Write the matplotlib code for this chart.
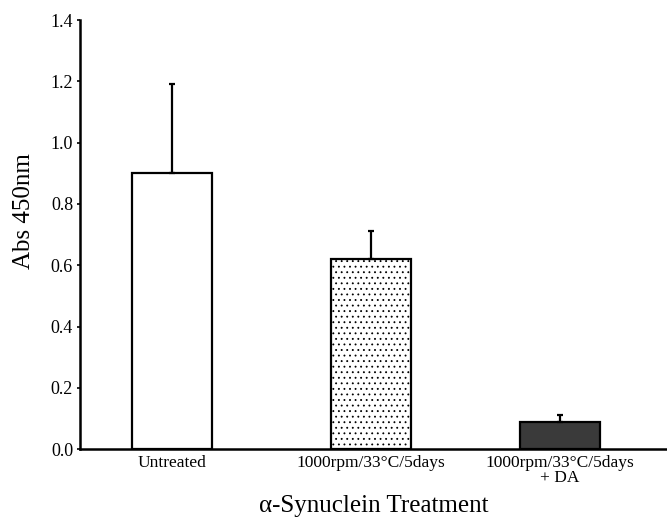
import matplotlib
matplotlib.use("Agg")
import matplotlib.pyplot as plt

categories = ["Untreated", "1000rpm/33°C/5days", "1000rpm/33°C/5days\n+ DA"]
values = [0.90, 0.62, 0.09]
errors = [0.29, 0.09, 0.02]
yticks = [0.0, 0.2, 0.4, 0.6, 0.8, 1.0, 1.2, 1.4]

plt.rcParams['font.family'] = ['Liberation Serif', 'DejaVu Serif']
plt.rcParams['hatch.linewidth'] = 0.6

fig = plt.figure(figsize=(6.67, 5.21), dpi=100)
ax = fig.add_axes([0.12, 0.138, 0.88, 0.8236])

pos = [0, 1.02, 1.99]
faces = ["white", "white", "#3a3a3a"]
hatches = [None, "...", None]
for p, v, e, fc, h in zip(pos, values, errors, faces, hatches):
    ax.bar(p, v, width=0.41, color=fc, edgecolor="black", linewidth=1.6, hatch=h, zorder=2)
    ax.errorbar(p, v, yerr=[[0], [e]], fmt="none", ecolor="black", elinewidth=1.6,
                capsize=2.5, capthick=1.6, zorder=3)

ax.set_xlim(-0.47, 2.54)
ax.set_ylim(0, 1.4)
ax.set_yticks(yticks)
ax.set_yticklabels([f"{t:.1f}" for t in yticks], fontsize=13)
ax.set_xticks(pos)
ax.set_xticklabels(categories, fontsize=12.5, linespacing=0.95)
ax.tick_params(axis="x", length=0, pad=4)
ax.tick_params(axis="y", length=2, width=1.2, pad=3)
for s in ["top", "right"]:
    ax.spines[s].set_visible(False)
ax.spines["left"].set_linewidth(1.8)
ax.spines["bottom"].set_linewidth(1.8)
ax.set_ylabel("Abs 450nm", fontsize=18)
ax.yaxis.set_label_coords(-0.077, 0.555)
ax.set_xlabel("α-Synuclein Treatment", fontsize=18)
ax.xaxis.set_label_coords(0.5, -0.108)

fig.savefig("out.png", dpi=100)
